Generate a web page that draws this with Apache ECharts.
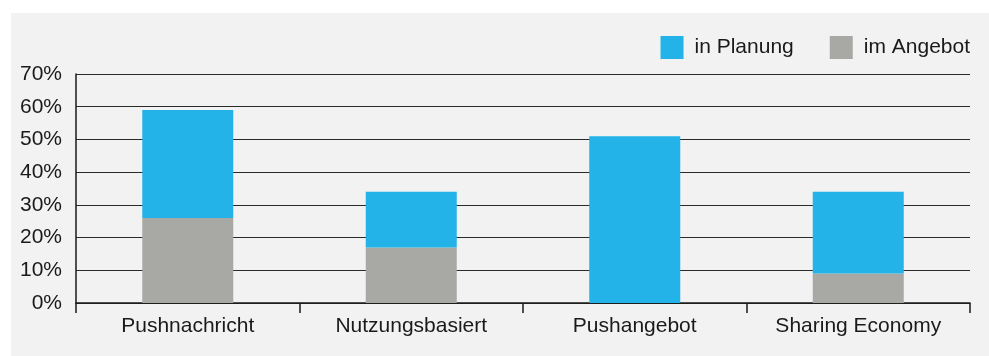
<!DOCTYPE html>
<html>
<head>
<meta charset="utf-8">
<script src="https://cdn.jsdelivr.net/npm/echarts@6/dist/echarts.min.js"></script>
<style>
  html, body { margin: 0; padding: 0; background: #ffffff; }
  #panel { position: absolute; left: 11px; top: 13px; width: 978px; height: 343px; background: #f2f2f2; }
  #chart { position: absolute; left: 0; top: 0; width: 989px; height: 356px; }
</style>
</head>
<body>
<div id="panel"></div>
<div id="chart"></div>
<script>
// Kategorien und Anteile (in Prozent)
const categories = ['Pushnachricht', 'Nutzungsbasiert', 'Pushangebot', 'Sharing Economy'];
const imAngebot = [26, 17, 0, 9];
const inPlanung = [33, 17, 51, 25];
const yTicks = [0, 10, 20, 30, 40, 50, 60, 70];

const FONT = '"Liberation Sans", Arial, sans-serif';
const chart = echarts.init(document.getElementById('chart'), null, { renderer: 'canvas' });

chart.setOption({
  backgroundColor: 'transparent',
  animation: false,
  textStyle: { fontFamily: FONT },
  legend: {
    data: ['in Planung', 'im Angebot'],
    right: 14,
    top: 31,
    itemWidth: 23,
    itemHeight: 23,
    itemGap: 36,
    icon: 'rect',
    textStyle: { fontSize: 21, color: '#1a1a1a', fontFamily: FONT, padding: [0, 0, 0, 6] }
  },
  grid: { left: 76, right: 19, top: 74, bottom: 53 },
  xAxis: {
    type: 'category',
    data: categories,
    boundaryGap: true,
    axisLine: { show: true, lineStyle: { color: '#1a1a1a', width: 1.5 } },
    axisTick: { show: true, length: 10, alignWithLabel: false, lineStyle: { color: '#1a1a1a', width: 1.5 } },
    axisLabel: { fontSize: 21, color: '#1a1a1a', margin: 13, fontFamily: FONT }
  },
  yAxis: {
    type: 'value',
    min: yTicks[0],
    max: yTicks[yTicks.length - 1],
    interval: 10,
    axisLine: { show: true, lineStyle: { color: '#1a1a1a', width: 1.5 } },
    axisTick: { show: false },
    axisLabel: { fontSize: 21, color: '#1a1a1a', margin: 14, fontFamily: FONT, formatter: v => v + '%' },
    splitLine: { show: true, lineStyle: { color: '#2a2a2a', width: 1 } }
  },
  series: [
    {
      name: 'im Angebot',
      type: 'bar',
      stack: 'total',
      barWidth: 91,
      data: imAngebot,
      itemStyle: { color: '#a8a9a4' }
    },
    {
      name: 'in Planung',
      type: 'bar',
      stack: 'total',
      barWidth: 91,
      data: inPlanung,
      itemStyle: { color: '#23b3e8' }
    }
  ]
});
</script>
</body>
</html>
